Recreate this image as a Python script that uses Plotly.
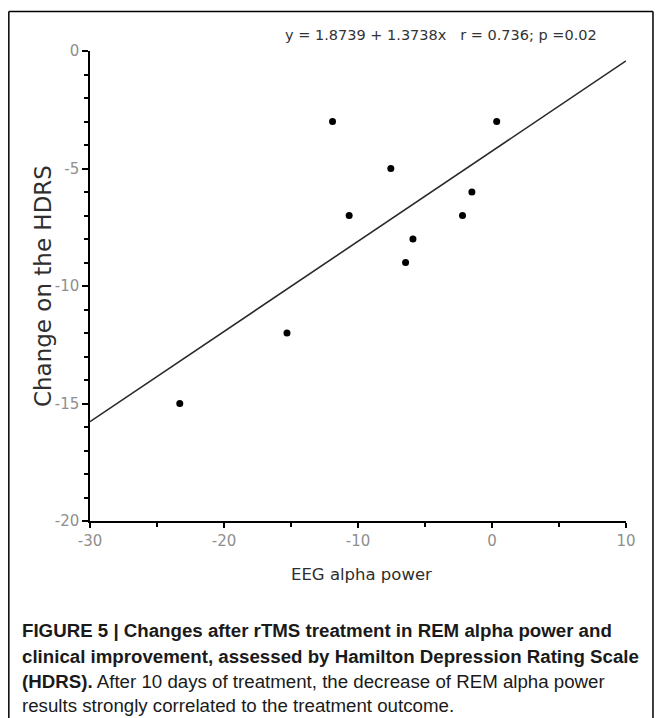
import numpy as np
import plotly.graph_objects as go

# ---- data ----
eeg_alpha = [-11.9, 0.35, -7.55, -1.5, -10.66, -2.2, -5.9, -6.45, -15.3, -23.3]
hdrs_change = [-3, -3, -5, -6, -7, -7, -8, -9, -12, -15]
x_range = [-30, 10]
y_range = [-20, 0]
x_ticks = [-30, -20, -10, 0, 10]
y_ticks = [0, -5, -10, -15, -20]
equation_text = "y = 1.8739 + 1.3738x   r = 0.736; p =0.02"
x_title = "EEG alpha power"
y_title = "Change on the HDRS"
caption_lines = [
    "<b>FIGURE 5 | Changes after rTMS treatment in REM alpha power and</b>",
    "<b>clinical improvement, assessed by Hamilton Depression Rating Scale</b>",
    "<b>(HDRS).</b> After 10 days of treatment, the decrease of REM alpha power",
    "results strongly correlated to the treatment outcome.",
]

# ---- layout geometry (page pixels; the page body adds an 8px margin) ----
OFF = 8
W, H = 662 - OFF, 718 - OFF
L, R = 90 - OFF, 626.5 - OFF
T, B = 50.5 - OFF, 520.7 - OFF


def px(xp):
    # xp given in page (reference) pixels
    return (xp - OFF - L) / (R - L)


def py(yp):
    return (B - (yp - OFF)) / (B - T)


# regression line fitted from the points
slope, intercept = np.polyfit(eeg_alpha, hdrs_change, 1)
fit_x = np.array(x_range, dtype=float)
fit_y = intercept + slope * fit_x

fig = go.Figure()
fig.add_trace(go.Scatter(x=fit_x, y=fit_y, mode="lines",
                         line=dict(color="#2a2a2a", width=1.6),
                         hoverinfo="skip", showlegend=False))
fig.add_trace(go.Scatter(x=eeg_alpha, y=hdrs_change, mode="markers",
                         marker=dict(color="black", size=7),
                         showlegend=False))

tickfont = dict(family="DejaVu Sans", size=15, color="#8f8f8f")
fig.update_xaxes(range=x_range, tickvals=x_ticks, ticktext=[str(v) for v in x_ticks],
                 showline=True, linecolor="black", linewidth=1.5, ticks="outside",
                 ticklen=5, tickwidth=1.5, tickcolor="black", showgrid=False,
                 zeroline=False, tickfont=tickfont,
                 minor=dict(dtick=5, tick0=0, ticks="outside", ticklen=4,
                            tickwidth=1.5, tickcolor="black", showgrid=False))
fig.update_yaxes(range=y_range, tickvals=y_ticks, ticktext=[str(v) for v in y_ticks],
                 showline=True, linecolor="black", linewidth=1.5, ticks="outside",
                 ticklen=6, tickwidth=1.5, tickcolor="black", showgrid=False,
                 zeroline=False, tickfont=tickfont,
                 minor=dict(dtick=1, tick0=0, ticks="outside", ticklen=4,
                            tickwidth=1.5, tickcolor="black", showgrid=False))

annotations = [
    dict(text=equation_text, x=px(441), y=py(34), xref="paper", yref="paper",
         showarrow=False, xanchor="center", yanchor="middle",
         font=dict(family="DejaVu Sans", size=14.5, color="#333333")),
    dict(text=x_title, x=px(362), y=py(574), xref="paper", yref="paper",
         showarrow=False, xanchor="center", yanchor="middle",
         font=dict(family="DejaVu Sans", size=16.5, color="#2e2e2e")),
    dict(text=y_title, x=px(43), y=py(285.6), xref="paper", yref="paper",
         showarrow=False, xanchor="center", yanchor="middle", textangle=-90,
         font=dict(family="DejaVu Sans", size=23, color="#2e2e2e")),
]
cap_y = [630, 656, 681, 705]
for line, yy in zip(caption_lines, cap_y):
    annotations.append(dict(text=line, x=px(20), y=py(yy), xref="paper", yref="paper",
                            showarrow=False, xanchor="left", yanchor="middle",
                            font=dict(family="Liberation Sans Narrow, Liberation Sans",
                                      size=18.7, color="#1a1a1a")))

frame = dict(color="black", width=1.5)
x_left, x_right, y_top, y_bot = 8.75, 653.5, 11, 740
shapes = [
    dict(type="line", xref="paper", yref="paper", x0=px(x_left), x1=px(x_left),
         y0=py(y_top), y1=py(y_bot), line=frame),
    dict(type="line", xref="paper", yref="paper", x0=px(x_left), x1=px(x_right),
         y0=py(y_top), y1=py(y_top), line=frame),
    dict(type="line", xref="paper", yref="paper", x0=px(x_right), x1=px(x_right),
         y0=py(y_top), y1=py(y_bot), line=frame),
]

fig.update_layout(width=W, height=H, autosize=False,
                  margin=dict(l=L, r=W - R, t=T, b=H - B, pad=0),
                  paper_bgcolor="white", plot_bgcolor="white",
                  annotations=annotations, shapes=shapes,
                  font=dict(family="DejaVu Sans"))

fig.write_html("out.html")
